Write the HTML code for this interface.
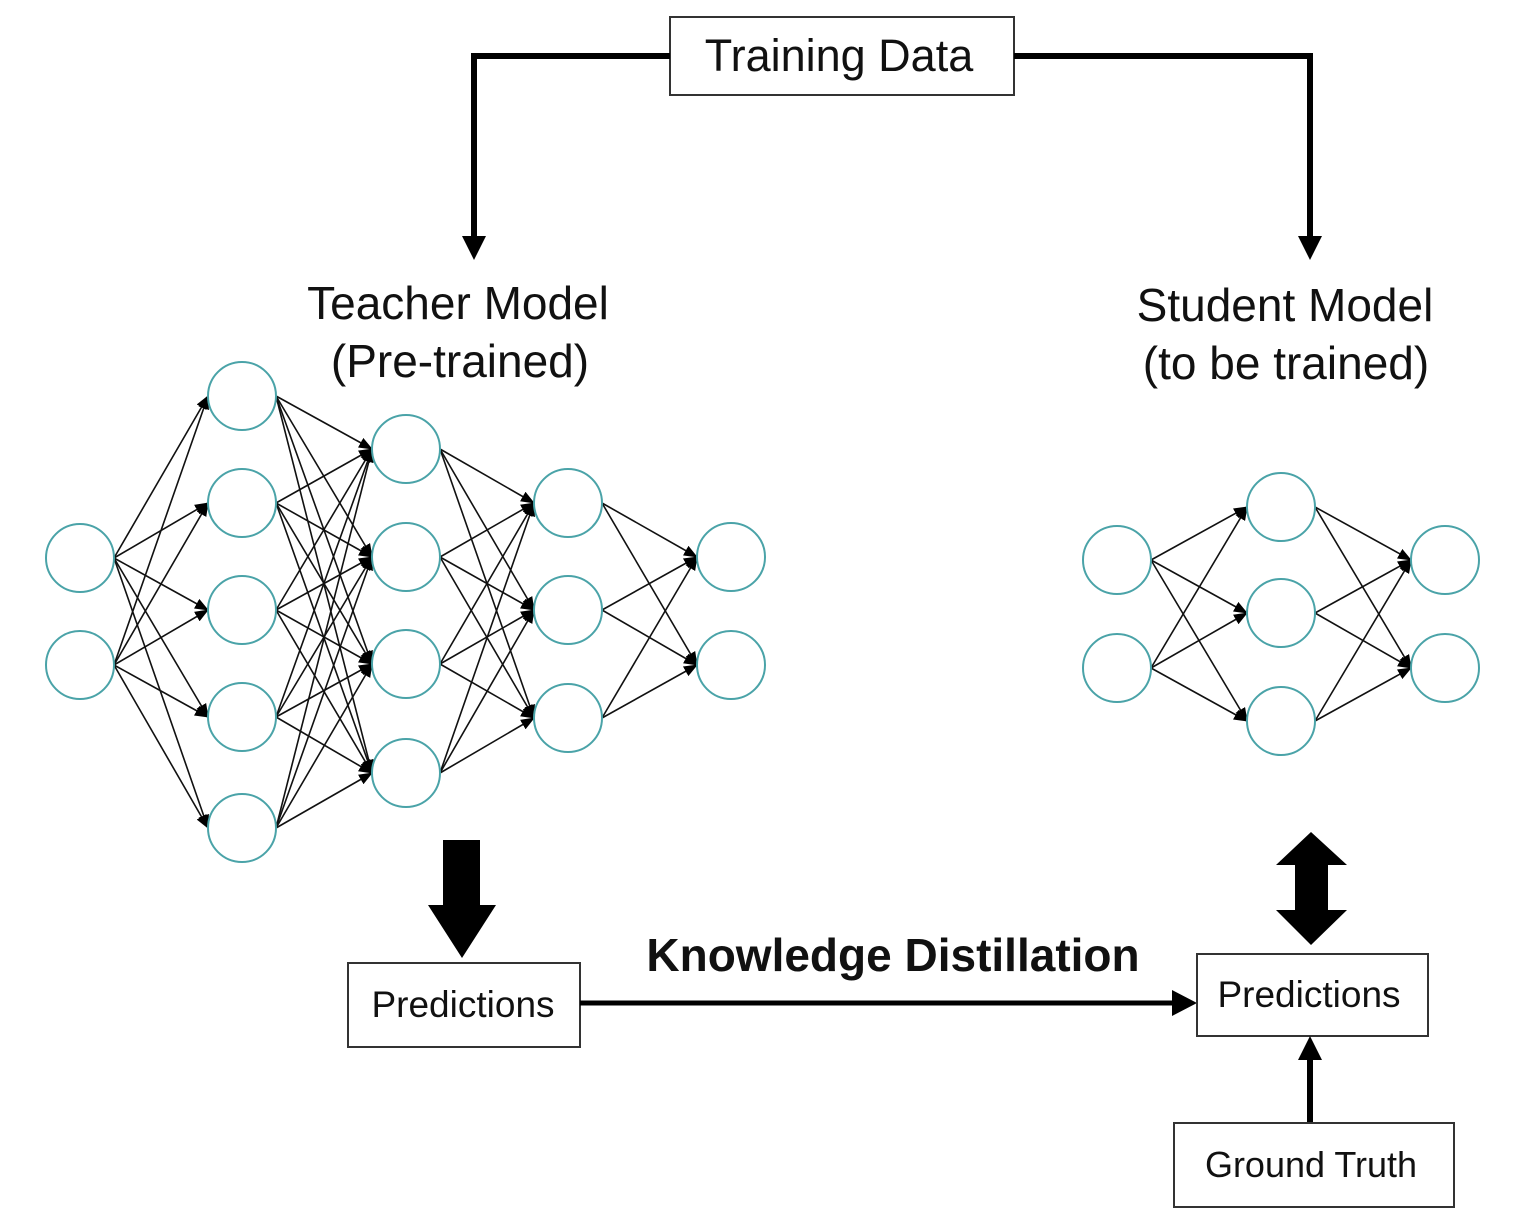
<!DOCTYPE html>
<html><head><meta charset="utf-8"><style>
html,body{margin:0;padding:0;background:#fff;}
svg{display:block;}
text{font-family:"Liberation Sans",Arial,sans-serif;fill:#111;}
</style></head><body>
<svg id="s" width="1536" height="1228" viewBox="0 0 1536 1228" xmlns="http://www.w3.org/2000/svg">
<defs>
<marker id="a" markerWidth="14" markerHeight="11" refX="13" refY="5.5" orient="auto" markerUnits="userSpaceOnUse"><path d="M0,0 L14,5.5 L0,11 z" fill="#000"/></marker>
</defs>
<rect x="670" y="17" width="344" height="78" fill="#fff" stroke="#333" stroke-width="2"/>
<text x="839" y="71" font-size="45" text-anchor="middle">Training Data</text>
<polyline points="670,56 474,56 474,240" fill="none" stroke="#000" stroke-width="6"/>
<path d="M462,236 L486,236 L474,260 z" fill="#000"/>
<polyline points="1014,56 1310,56 1310,240" fill="none" stroke="#000" stroke-width="6"/>
<path d="M1298,236 L1322,236 L1310,260 z" fill="#000"/>
<text x="458" y="319" font-size="46" text-anchor="middle">Teacher Model</text>
<text x="460" y="377" font-size="46" text-anchor="middle">(Pre-trained)</text>
<text x="1285" y="321" font-size="46" text-anchor="middle">Student Model</text>
<text x="1286" y="379" font-size="46" text-anchor="middle">(to be trained)</text>
<g id="edges" stroke="#111" stroke-width="1.6" fill="none"></g>
<g id="nodes" fill="#fff" stroke="#4aa3a8" stroke-width="2"></g>
<path d="M443,840 L480,840 L480,905 L496,905 L462,958 L428,905 L443,905 z" fill="#000"/>
<rect x="348" y="963" width="232" height="84" fill="#fff" stroke="#333" stroke-width="2"/>
<text x="463" y="1017" font-size="37" text-anchor="middle">Predictions</text>
<text x="893" y="971" font-size="46" font-weight="bold" text-anchor="middle">Knowledge Distillation</text>
<line x1="580" y1="1003" x2="1178" y2="1003" stroke="#000" stroke-width="5"/>
<path d="M1172,990 L1197,1003 L1172,1016 z" fill="#000"/>
<rect x="1197" y="954" width="231" height="82" fill="#fff" stroke="#333" stroke-width="2"/>
<text x="1309" y="1007" font-size="37" text-anchor="middle">Predictions</text>
<path d="M1311,832 L1347,865 L1328,865 L1328,910 L1347,910 L1311,945 L1276,910 L1295,910 L1295,865 L1276,865 z" fill="#000"/>
<line x1="1310" y1="1123" x2="1310" y2="1058" stroke="#000" stroke-width="6"/>
<path d="M1298,1060 L1310,1036 L1322,1060 z" fill="#000"/>
<rect x="1174" y="1123" width="280" height="84" fill="#fff" stroke="#333" stroke-width="2"/>
<text x="1311" y="1177" font-size="36" text-anchor="middle">Ground Truth</text>
</svg>
<script>
var NS="http://www.w3.org/2000/svg";
var nets=[
 [[80,[558,665]],[242,[396,503,610,717,828]],[406,[449,557,664,773]],[568,[503,610,718]],[731,[557,665]]],
 [[1117,[560,668]],[1281,[507,613,721]],[1445,[560,668]]]
];
var E=document.getElementById("edges"),N=document.getElementById("nodes");
var rx=34,ry=34;
nets.forEach(function(net){
 for(var l=0;l<net.length-1;l++){
  var a=net[l],b=net[l+1];
  a[1].forEach(function(y1){b[1].forEach(function(y2){
   var x1=a[0]+rx,x2=b[0]-rx;
   var ln=document.createElementNS(NS,"line");
   ln.setAttribute("x1",x1);ln.setAttribute("y1",y1);
   ln.setAttribute("x2",x2);ln.setAttribute("y2",y2);
   ln.setAttribute("marker-end","url(#a)");
   E.appendChild(ln);
  });});
 }
 net.forEach(function(L){L[1].forEach(function(y){
  var c=document.createElementNS(NS,"ellipse");
  c.setAttribute("cx",L[0]);c.setAttribute("cy",y);
  c.setAttribute("rx",rx);c.setAttribute("ry",ry);
  N.appendChild(c);
 });});
});
</script>
</body></html>
